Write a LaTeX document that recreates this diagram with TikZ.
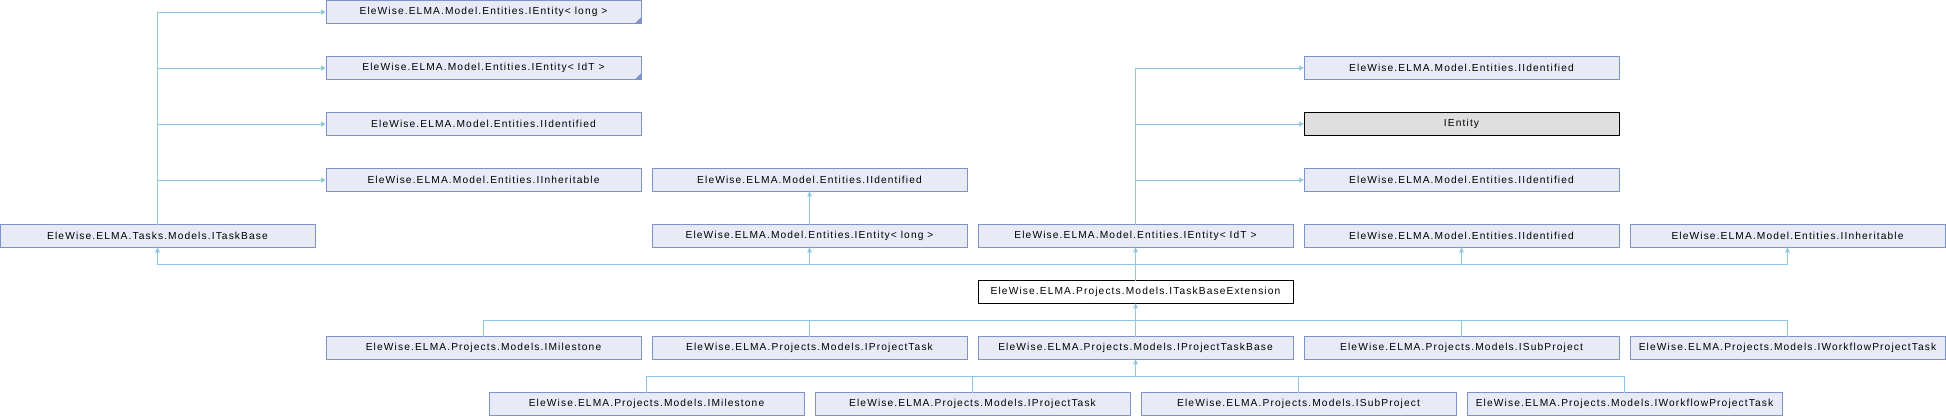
\documentclass[tikz,border=0pt]{standalone}
\usepackage{fontspec}
\setmainfont{Liberation Sans}[LetterSpace=11]
\usetikzlibrary{positioning, calc, arrows.meta}

\definecolor{edgeblue}{HTML}{8FC7E8}
\definecolor{boxline}{HTML}{7D93CB}
\definecolor{boxfill}{HTML}{E8EBF5}
\definecolor{focusfill}{HTML}{DFDFDF}

\begin{document}
\begin{tikzpicture}[x=1pt, y=-1pt,
    cls/.style={draw=boxline, fill=boxfill, line width=1pt, minimum width=315pt,
        minimum height=22.6pt, inner sep=0pt, outer sep=0pt,
        font=\fontsize{10.2}{12}\selectfont},
    focus/.style={cls, draw=black, fill=focusfill},
    self/.style={cls, draw=black, fill=white},
    edge/.style={draw=edgeblue, line width=1pt, -{Triangle[length=5pt, width=4.5pt]}},
    link/.style={draw=edgeblue, line width=1pt},
    node distance=33.4pt and 11pt]

    \useasboundingbox (0,0) rectangle (1946,416);

    % Base interfaces (row 5)
    \node[cls] (base) at (157.5,236) {EleWise.ELMA.Tasks.Models.ITaskBase};
    \node[cls] (elong) [right=337pt of base] {EleWise.ELMA.Model.Entities.IEntity< long >};
    \node[cls] (eid) [right=of elong] {EleWise.ELMA.Model.Entities.IEntity< IdT >};
    \node[cls] (ident5) [right=of eid] {EleWise.ELMA.Model.Entities.IIdentified};
    \node[cls] (inher5) [right=of ident5] {EleWise.ELMA.Model.Entities.IInheritable};

    % Parents of ITaskBase (column 1)
    \node[cls] (inher1) at (483.5,180) {EleWise.ELMA.Model.Entities.IInheritable};
    \node[cls] (ident1) [above=of inher1] {EleWise.ELMA.Model.Entities.IIdentified};
    \node[cls] (entid1) [above=of ident1] {EleWise.ELMA.Model.Entities.IEntity< IdT >};
    \node[cls] (entlong1) [above=of entid1] {EleWise.ELMA.Model.Entities.IEntity< long >};

    % Parent of IEntity< long >
    \node[cls] (ident2) [above=of elong] {EleWise.ELMA.Model.Entities.IIdentified};

    % Parents of IEntity< IdT > (column 4)
    \node[cls] (ident4) [above=of ident5] {EleWise.ELMA.Model.Entities.IIdentified};
    \node[focus] (ient) [above=of ident4] {IEntity};
    \node[cls] (ident3) [above=of ient] {EleWise.ELMA.Model.Entities.IIdentified};

    % Template corner marks
    \fill[boxline] (entlong1.south east) -- ++(-6pt,0pt) -- ++(6pt,6pt) -- cycle;
    \fill[boxline] (entid1.south east) -- ++(-6pt,0pt) -- ++(6pt,6pt) -- cycle;

    % The class itself
    \node[self] (ext) [below=of eid] {EleWise.ELMA.Projects.Models.ITaskBaseExtension};

    % Derived interfaces (row 7)
    \node[cls] (pbase) [below=of ext] {EleWise.ELMA.Projects.Models.IProjectTaskBase};
    \node[cls] (ptask) [left=of pbase] {EleWise.ELMA.Projects.Models.IProjectTask};
    \node[cls] (pmile) [left=of ptask] {EleWise.ELMA.Projects.Models.IMilestone};
    \node[cls] (psub) [right=of pbase] {EleWise.ELMA.Projects.Models.ISubProject};
    \node[cls] (pwork) [right=of psub] {EleWise.ELMA.Projects.Models.IWorkflowProjectTask};

    % Derived from IProjectTaskBase (row 8)
    \node[cls] (qtask) [below=of pbase, xshift=-163pt] {EleWise.ELMA.Projects.Models.IProjectTask};
    \node[cls] (qmile) [left=of qtask] {EleWise.ELMA.Projects.Models.IMilestone};
    \node[cls] (qsub) [right=of qtask] {EleWise.ELMA.Projects.Models.ISubProject};
    \node[cls] (qwork) [right=of qsub] {EleWise.ELMA.Projects.Models.IWorkflowProjectTask};

    % Junctions of the buses
    \coordinate (up) at ($(ext.north)!0.5!(eid.south)$);
    \coordinate (mid) at ($(ext.south)!0.5!(pbase.north)$);
    \coordinate (low) at ($(pbase.south)!0.5!(pbase.south |- qtask.north)$);

    % Edges above
    \foreach \n in {entlong1, entid1, ident1, inher1}
        \draw[edge] (base.north) |- (\n.west);
    \draw[edge] (elong.north) -- (ident2.south);
    \foreach \n in {ident3, ient, ident4}
        \draw[edge] (eid.north) |- (\n.west);

    % ITaskBaseExtension to its bases
    \draw[edge] (ext.north) -- (eid.south);
    \foreach \n in {base, elong, ident5, inher5}
        \draw[edge] (up) -| (\n.south);

    % Derived to ITaskBaseExtension
    \draw[edge] (pbase.north) -- (ext.south);
    \foreach \n in {pmile, ptask, psub, pwork}
        \draw[link] (\n.north) |- (mid);

    % Derived to IProjectTaskBase
    \draw[edge] (low) -- (pbase.south);
    \foreach \n in {qmile, qtask, qsub, qwork}
        \draw[link] (\n.north) |- (low);

\end{tikzpicture}
\end{document}
